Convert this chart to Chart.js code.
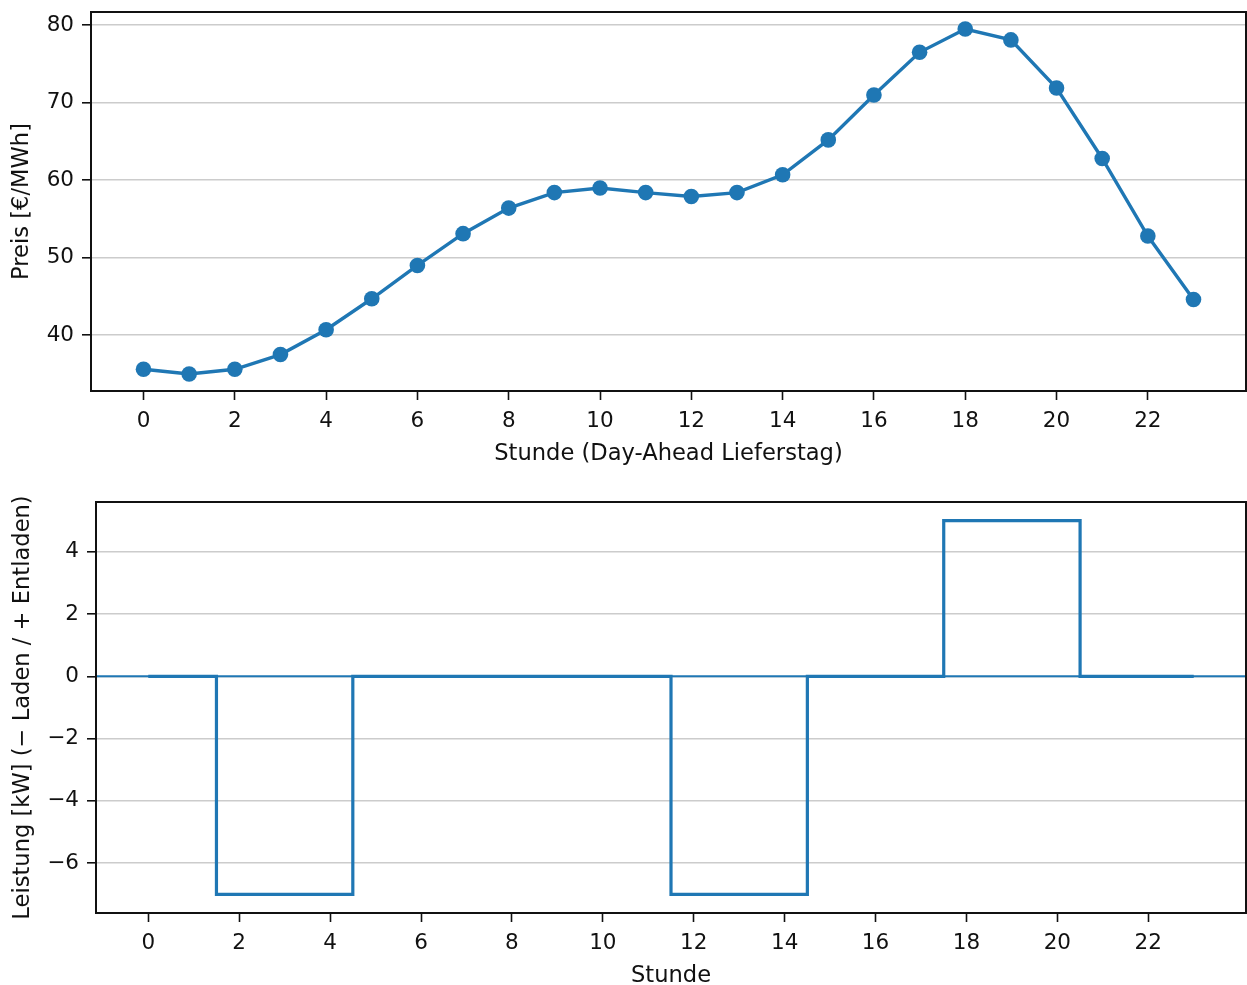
<!DOCTYPE html>
<html>
<head>
<meta charset="utf-8">
<script src="https://cdn.jsdelivr.net/npm/chart.js@4/dist/chart.umd.min.js"></script>
<style>
  body { margin: 0; background: #fff; }
  #wrap { position: relative; width: 1247px; height: 985px; }
  .box { position: absolute; left: 0; width: 1247px; }
</style>
</head>
<body>
<div id="wrap">
  <div class="box" style="top:0;height:470px"><canvas id="priceChart"></canvas></div>
  <div class="box" style="top:470px;height:515px"><canvas id="powerChart"></canvas></div>
</div>
<script>
// Stunden 0..23
const hours = [0, 1, 2, 3, 4, 5, 6, 7, 8, 9, 10, 11, 12, 13, 14, 15, 16, 17, 18, 19, 20, 21, 22, 23];
// Day-Ahead Preis [EUR/MWh]
const prices = [35.6, 35.0, 35.6, 37.5, 40.7, 44.7, 49.0, 53.1, 56.4, 58.4, 59.0, 58.4,
                57.9, 58.4, 60.7, 65.2, 71.0, 76.5, 79.5, 78.1, 71.9, 62.8, 52.8, 44.6];
// Batterieleistung [kW] (- Laden / + Entladen)
const power = [0, 0, -7, -7, -7, 0, 0, 0, 0, 0, 0, 0,
               -7, -7, -7, 0, 0, 0, 5, 5, 5, 0, 0, 0];

const xTicks = [0, 2, 4, 6, 8, 10, 12, 14, 16, 18, 20, 22];
const priceTicks = [40, 50, 60, 70, 80];
const powerTicks = [-6, -4, -2, 0, 2, 4];

const blue = '#1f77b4';
const tickFont = { family: 'DejaVu Sans', size: 21.5 };
const titleFont = { family: 'DejaVu Sans', size: 22.6 };
Chart.defaults.color = '#111';

function minusFmt(v) {
  return v < 0 ? '\u2212' + Math.abs(v) : String(v);
}

function noPad(s) {
  s.paddingTop = 0;
  s.paddingBottom = 0;
  s.paddingLeft = 0;
  s.paddingRight = 0;
}

// Rahmen + Y-Achsentitel + Nulllinie
const framePlugin = {
  id: 'frame',
  beforeDatasetsDraw(chart, args, opts) {
    const a = chart.chartArea;
    const ctx = chart.ctx;
    if (opts.zeroLine) {
      const y0 = chart.scales.y.getPixelForValue(0);
      ctx.save();
      ctx.strokeStyle = blue;
      ctx.lineWidth = 2;
      ctx.beginPath();
      ctx.moveTo(a.left, y0);
      ctx.lineTo(a.right, y0);
      ctx.stroke();
      ctx.restore();
    }
  },
  afterDraw(chart, args, opts) {
    const a = chart.chartArea;
    const ctx = chart.ctx;
    ctx.save();
    ctx.strokeStyle = '#111';
    ctx.lineWidth = 2;
    ctx.strokeRect(a.left, a.top, a.right - a.left, a.bottom - a.top);
    ctx.translate(opts.labelX, (a.top + a.bottom) / 2);
    ctx.rotate(-Math.PI / 2);
    ctx.font = titleFont.size + 'px "DejaVu Sans"';
    ctx.fillStyle = '#111';
    ctx.textAlign = 'center';
    ctx.textBaseline = 'middle';
    ctx.fillText(opts.text, 0, 0);
    ctx.restore();
  }
};

function xScale(title, height, titlePad) {
  return {
    type: 'linear',
    min: -1.15,
    max: 24.15,
    afterBuildTicks: s => { s.ticks = xTicks.map(v => ({ value: v })); },
    afterFit: s => { s.height = height; noPad(s); },
    grid: { drawOnChartArea: false, drawTicks: true, tickLength: 9, tickColor: '#111', tickWidth: 1.6 },
    border: { display: false },
    ticks: { padding: 9, maxRotation: 0, autoSkip: false, font: tickFont },
    title: { display: true, text: title, font: titleFont, padding: { top: 0, bottom: titlePad } }
  };
}

function yScale(min, max, tickVals, width) {
  return {
    min: min,
    max: max,
    afterBuildTicks: s => { s.ticks = tickVals.map(v => ({ value: v })); },
    afterFit: s => { s.width = width; noPad(s); },
    grid: { color: 'rgba(170,170,170,0.6)', lineWidth: 1.6, tickLength: 9, tickColor: '#111', tickWidth: 1.6 },
    border: { display: false },
    ticks: { padding: 8, callback: v => minusFmt(v), autoSkip: false, font: tickFont }
  };
}

new Chart(document.getElementById('priceChart'), {
  type: 'line',
  data: {
    datasets: [{
      data: hours.map((h, i) => ({ x: h, y: prices[i] })),
      borderColor: blue,
      backgroundColor: blue,
      borderWidth: 3.4,
      pointRadius: 7.8,
      pointBorderWidth: 0,
      pointBackgroundColor: blue,
      tension: 0
    }]
  },
  options: {
    responsive: true,
    maintainAspectRatio: false,
    animation: false,
    layout: { autoPadding: false, padding: { top: 12, right: 1, left: 0, bottom: 0 } },
    plugins: {
      legend: { display: false },
      tooltip: { enabled: false },
      frame: { text: 'Preis [€/MWh]', labelX: 22 }
    },
    scales: {
      x: xScale('Stunde (Day-Ahead Lieferstag)', 79, 2),
      y: yScale(32.8, 81.7, priceTicks, 91)
    }
  },
  plugins: [framePlugin]
});

new Chart(document.getElementById('powerChart'), {
  type: 'line',
  data: {
    datasets: [{
      data: hours.map((h, i) => ({ x: h, y: power[i] })),
      borderColor: blue,
      borderWidth: 3.2,
      pointRadius: 0,
      stepped: 'middle',
      fill: false
    }]
  },
  options: {
    responsive: true,
    maintainAspectRatio: false,
    animation: false,
    layout: { autoPadding: false, padding: { top: 32, right: 1, left: 0, bottom: 0 } },
    plugins: {
      legend: { display: false },
      tooltip: { enabled: false },
      frame: { text: 'Leistung [kW] (\u2212 Laden / + Entladen)', labelX: 23, zeroLine: true }
    },
    scales: {
      x: xScale('Stunde', 72, -5),
      y: yScale(-7.6, 5.6, powerTicks, 96)
    }
  },
  plugins: [framePlugin]
});
</script>
</body>
</html>
